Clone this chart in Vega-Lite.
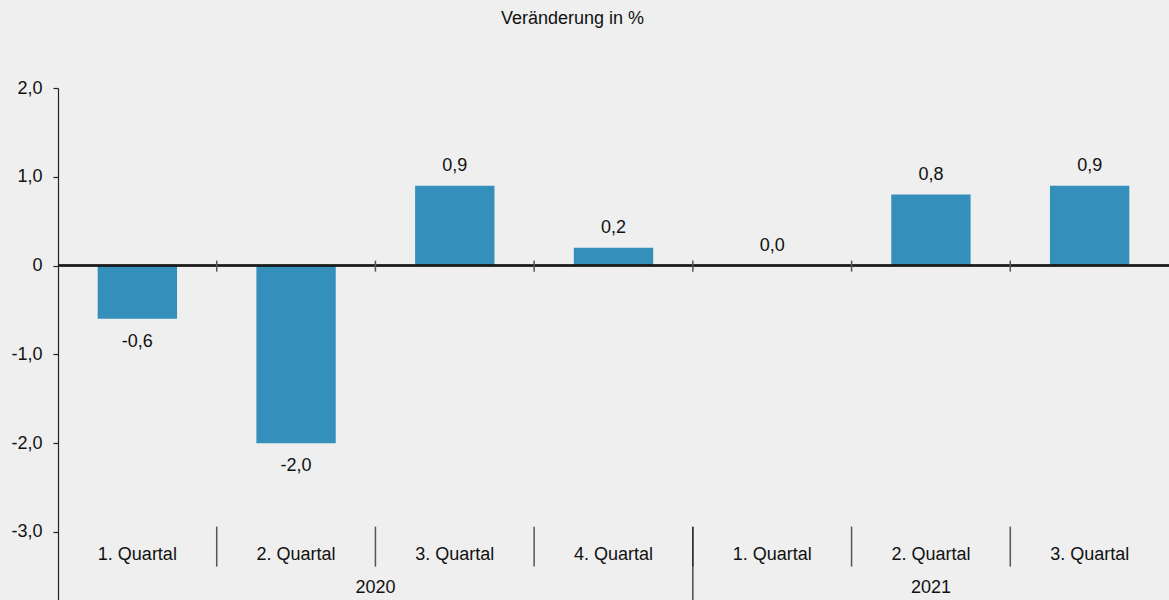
{
  "$schema": "https://vega.github.io/schema/vega-lite/v6.json",
  "width": 1111,
  "height": 512,
  "autosize": {"type": "none"},
  "padding": {"left": 58, "top": 88, "right": 0, "bottom": 0},
  "background": "#EEEFEE",
  "title": {"text": "Veränderung in %", "fontSize": 18, "font": "Liberation Sans", "fontWeight": "normal", "color": "#111111", "anchor": "middle", "dx": -41, "offset": 51},
  "config": {
    "view": {"stroke": null},
    "locale": {"number": {"decimal": ",", "thousands": ".", "grouping": [3], "currency": ["", " €"], "minus": "-"}},
    "text": {"font": "Liberation Sans", "fontSize": 18, "color": "#111111"}
  },
  "data": {"values": [
    {"key": "2020 1. Quartal", "year": "2020", "q": "1. Quartal", "v": -0.6},
    {"key": "2020 2. Quartal", "year": "2020", "q": "2. Quartal", "v": -2.0},
    {"key": "2020 3. Quartal", "year": "2020", "q": "3. Quartal", "v": 0.9},
    {"key": "2020 4. Quartal", "year": "2020", "q": "4. Quartal", "v": 0.2},
    {"key": "2021 1. Quartal", "year": "2021", "q": "1. Quartal", "v": 0.0},
    {"key": "2021 2. Quartal", "year": "2021", "q": "2. Quartal", "v": 0.8},
    {"key": "2021 3. Quartal", "year": "2021", "q": "3. Quartal", "v": 0.9}
  ]},
  "layer": [
    {
      "mark": {"type": "bar", "color": "#3490BA", "width": {"band": 0.5}},
      "encoding": {
        "x": {"field": "key", "type": "nominal", "axis": null, "scale": {"paddingInner": 0, "paddingOuter": 0}},
        "y": {"field": "v", "type": "quantitative", "scale": {"domain": [-3.766, 2], "nice": false, "zero": false},
          "axis": {"values": [-3, -2, -1, 0, 1, 2], "format": ".1f", "labelExpr": "datum.value == 0 ? '0' : datum.label", "title": null, "grid": false, "tickSize": 5, "labelPadding": 11, "labelFontSize": 18, "labelFont": "Liberation Sans", "labelColor": "#111111", "domainColor": "#222222", "tickColor": "#222222", "domainWidth": 1.2, "tickWidth": 1.2}}
      }
    },
    {
      "mark": {"type": "rule", "color": "#1a1a1a", "strokeWidth": 1.5},
      "encoding": {"y": {"datum": 0, "type": "quantitative"}}
    },
    {
      "transform": [{"filter": "datum.key != '2020 1. Quartal'"}],
      "mark": {"type": "rule", "color": "#555555", "strokeWidth": 1.5},
      "encoding": {
        "x": {"field": "key", "type": "nominal", "bandPosition": 0},
        "y": {"datum": 0.056, "type": "quantitative"},
        "y2": {"datum": -0.068}
      }
    },
    {
      "transform": [{"filter": "datum.key != '2020 1. Quartal'"}],
      "mark": {"type": "rule", "color": "#555555", "strokeWidth": 1.5},
      "encoding": {
        "x": {"field": "key", "type": "nominal", "bandPosition": 0},
        "y": {"datum": -2.94, "type": "quantitative"},
        "y2": {"datum": -3.39}
      }
    },
    {
      "transform": [{"filter": "datum.key == '2021 1. Quartal'"}],
      "mark": {"type": "rule", "color": "#222222", "strokeWidth": 1.2},
      "encoding": {
        "x": {"field": "key", "type": "nominal", "bandPosition": 0},
        "y": {"datum": -2.94, "type": "quantitative"},
        "y2": {"datum": -3.766}
      }
    },
    {
      "transform": [{"filter": "datum.v >= 0"}],
      "mark": {"type": "text", "baseline": "middle", "dy": -20},
      "encoding": {
        "x": {"field": "key", "type": "nominal"},
        "y": {"field": "v", "type": "quantitative"},
        "text": {"field": "v", "type": "quantitative", "format": ".1f"}
      }
    },
    {
      "transform": [{"filter": "datum.v < 0"}],
      "mark": {"type": "text", "baseline": "middle", "dy": 23},
      "encoding": {
        "x": {"field": "key", "type": "nominal"},
        "y": {"field": "v", "type": "quantitative"},
        "text": {"field": "v", "type": "quantitative", "format": ".1f"}
      }
    },
    {
      "mark": {"type": "text", "baseline": "middle"},
      "encoding": {
        "x": {"field": "key", "type": "nominal"},
        "y": {"datum": -3.26, "type": "quantitative"},
        "text": {"field": "q", "type": "nominal"}
      }
    },
    {
      "transform": [{"filter": "datum.key == '2020 3. Quartal'"}],
      "mark": {"type": "text", "baseline": "middle"},
      "encoding": {
        "x": {"field": "key", "type": "nominal", "bandPosition": 0},
        "y": {"datum": -3.63, "type": "quantitative"},
        "text": {"field": "year", "type": "nominal"}
      }
    },
    {
      "transform": [{"filter": "datum.key == '2021 2. Quartal'"}],
      "mark": {"type": "text", "baseline": "middle"},
      "encoding": {
        "x": {"field": "key", "type": "nominal", "bandPosition": 0.5},
        "y": {"datum": -3.63, "type": "quantitative"},
        "text": {"field": "year", "type": "nominal"}
      }
    }
  ]
}
